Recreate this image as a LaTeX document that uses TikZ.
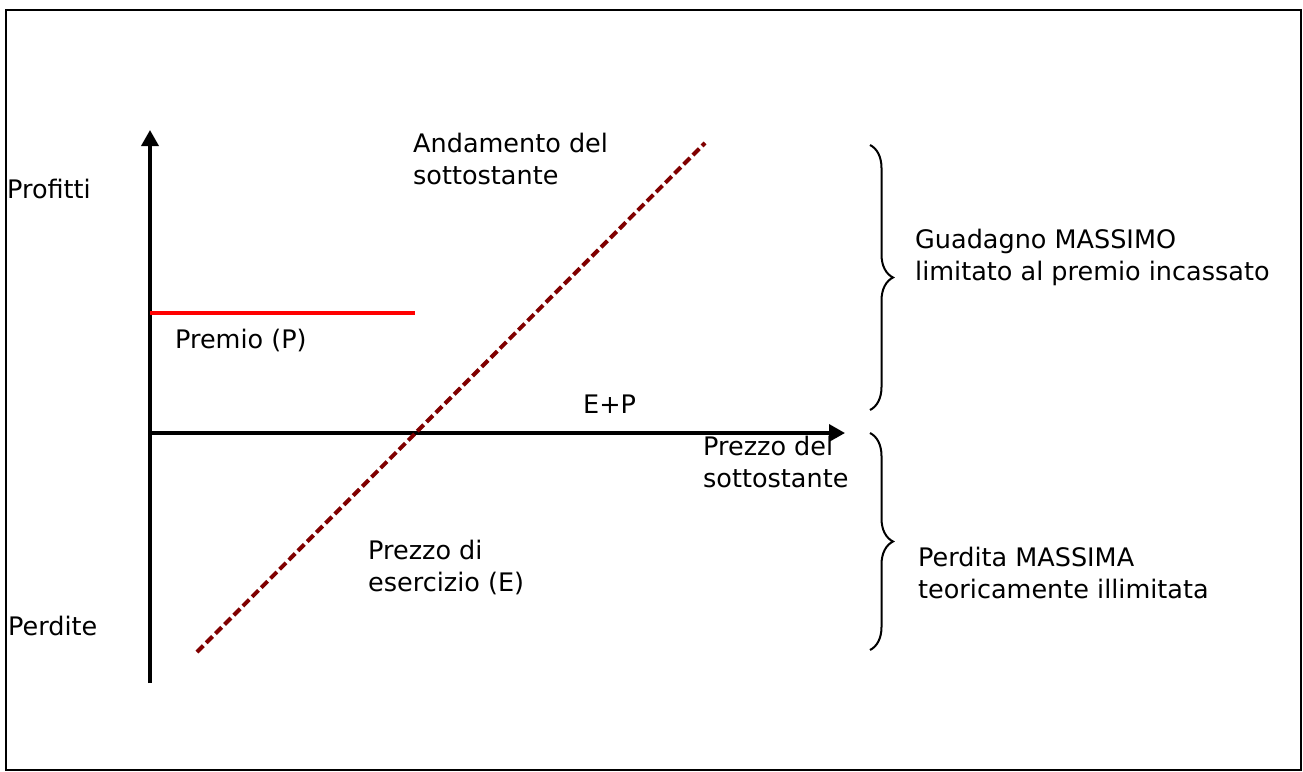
\documentclass[tikz,border=0pt]{standalone}
\usepackage{fontspec}
\setmainfont{DejaVu Sans}
\usetikzlibrary{arrows.meta,decorations.pathreplacing}
\definecolor{darkred}{RGB}{128,0,0}
\tikzset{
  lbl/.style={anchor=base west,inner sep=0pt,align=left,font=\fontsize{25.5}{32}\selectfont},
  axis/.style={line width=3.5pt,-{Triangle[length=16pt,width=17pt]}},
  curly/.style={line width=2pt,decorate,decoration={brace,amplitude=23pt}}
}
\begin{document}
\begin{tikzpicture}[x=1pt,y=-1pt]
\useasboundingbox (0,0) rectangle (1303,771);
\draw[line width=2.5pt] (6,10) rectangle (1301,770);
% assi
\coordinate (O) at (150,433);
\coordinate (ybot) at (150,683);
\coordinate (ytop) at (150,130);
\coordinate (xend) at (845,433);
\draw[axis] (ybot) -- (ytop);
\draw[axis] (O) -- (xend);
% premio
\coordinate (p0) at (150,313);
\coordinate (p1) at (415,313);
\draw[red,line width=3.5pt] (p0) -- (p1);
% sottostante
\coordinate (s0) at (197,652);
\coordinate (s1) at (705,143);
\draw[darkred,line width=4pt,dash pattern=on 9pt off 4pt] (s0) -- (s1);
% graffe
\coordinate (g0) at (870,145);
\coordinate (g1) at (870,410);
\coordinate (g2) at (870,433);
\coordinate (g3) at (870,650);
\draw[curly] (g0) -- (g1);
\draw[curly] (g2) -- (g3);
% testi
\node[lbl] (prof) at (7,198) {Profitti};
\node[lbl] (perd) at (8,635) {Perdite};
\node[lbl] (and) at (413,184) {Andamento del\\sottostante};
\node[lbl] (prem) at (175,348) {Premio (P)};
\node[lbl] (ep) at (583,413) {E+P};
\node[lbl] (prx) at (703,487) {Prezzo del\\sottostante};
\node[lbl] (ese) at (368,591) {Prezzo di\\esercizio (E)};
\node[lbl] (gua) at (915,280) {Guadagno MASSIMO\\limitato al premio incassato};
\node[lbl] (pma) at (918,598) {Perdita MASSIMA\\teoricamente illimitata};
\end{tikzpicture}
\end{document}
